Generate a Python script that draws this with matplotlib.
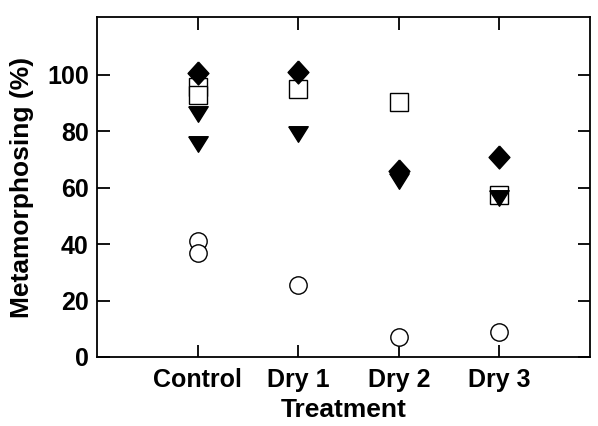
import numpy as np
import matplotlib.pyplot as plt

plt.rcParams['font.family'] = ['Liberation Sans', 'DejaVu Sans']

treatments = ['Control', 'Dry 1', 'Dry 2', 'Dry 3']

# each series: treatment position and % metamorphosing
diamond_x = [1, 2, 3, 4]
diamond_y = [100.5, 101, 66, 71]
square_x = [1, 1, 2, 3, 4]
square_y = [95.7, 93, 95, 90.5, 57.4]
triangle_x = [1, 1, 2, 3, 4]
triangle_y = [86, 75.5, 79, 62.4, 56.5]
circle_x = [1, 1, 2, 3, 4]
circle_y = [41, 37, 25.5, 7, 9]

# wide, flat downward triangle and a slightly tall diamond
tri = [(-1, 0.8), (1, 0.8), (0, -0.8), (-1, 0.8)]
dia = [(0, 1.1), (1, 0), (0, -1.1), (-1, 0), (0, 1.1)]

fig = plt.figure(figsize=(5.98, 4.26), dpi=100)
ax = fig.add_axes([97/598, 1 - 357/426, (590 - 97)/598, (357 - 17)/426])

ax.plot(square_x, square_y, 's', ms=13, mfc='white', mec='black', mew=1.0, ls='none')
ax.plot(circle_x, circle_y, 'o', ms=12.5, mfc='white', mec='black', mew=1.0, ls='none')
ax.plot(triangle_x, triangle_y, marker=tri, ms=14, color='black', ls='none')
ax.plot(diamond_x, diamond_y, marker=dia, ms=16.5, color='black', ls='none')

ax.set_xlim(0, 4.9)
ax.set_ylim(0, 120.5)
ax.set_xticks(range(1, 5))
ax.set_xticklabels(treatments)
ax.set_yticks(range(0, 101, 20))

ax.tick_params(direction='in', length=9, width=1.3, top=True, right=True,
               labelsize=18)
ax.tick_params(axis='x', pad=8)
ax.tick_params(axis='y', pad=6)
for lab in ax.get_xticklabels() + ax.get_yticklabels():
    lab.set_fontweight('bold')
for s in ax.spines.values():
    s.set_linewidth(1.3)

ax.set_xlabel('Treatment', fontsize=19, fontweight='bold', labelpad=4)
ax.set_ylabel('Metamorphosing (%)', fontsize=19, fontweight='bold', labelpad=9)

fig.savefig('out.png', dpi=100)
